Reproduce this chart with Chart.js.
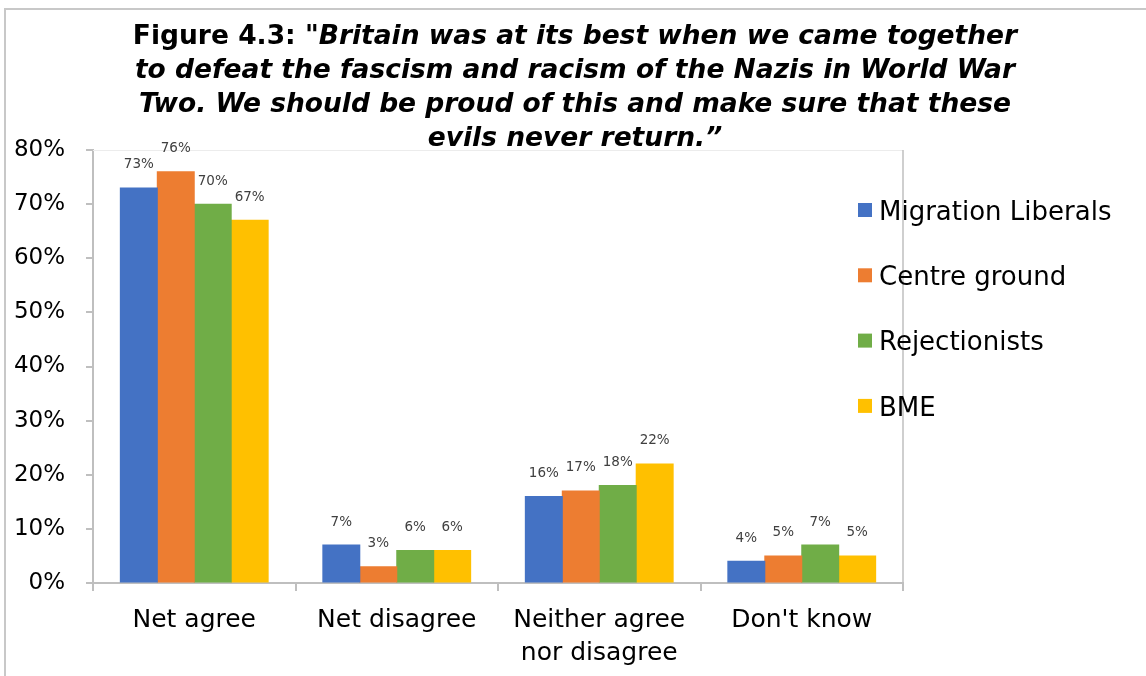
<!DOCTYPE html>
<html>
<head>
<meta charset="utf-8">
<script src="https://cdn.jsdelivr.net/npm/chart.js@4"></script>
<style>
    html, body { margin: 0; padding: 0; background: #fff; }
    canvas { display: block; }
</style>
</head>
<body>
<canvas id="surveyChart" width="1146" height="676"></canvas>
<script>
const categories = ['Net agree', 'Net disagree', ['Neither agree', 'nor disagree'], "Don't know"];
const groups = ['Migration Liberals', 'Centre ground', 'Rejectionists', 'BME'];
const migrationLiberals = [73, 7, 16, 4];
const centreGround = [76, 3, 17, 5];
const rejectionists = [70, 6, 18, 7];
const bme = [67, 6, 22, 5];
const yTicks = [0, 10, 20, 30, 40, 50, 60, 70, 80];
const colours = ['#4472C4', '#ED7D31', '#70AD47', '#FFC000'];

const titleLead = 'Figure 4.3: "';
const titleLines = [
    'Britain was at its best when we came together',
    'to defeat the fascism and racism of the Nazis in World War',
    'Two. We should be proud of this and make sure that these',
    'evils never return.\u201D'
];

Chart.defaults.font.family = '"DejaVu Sans", sans-serif';

const FONT = '"DejaVu Sans", sans-serif';
const axisGrey = '#bfbfbf';

// frame, plot border, title, bar labels and legend
const extras = {
    id: 'extras',
    beforeDatasetsDraw(chart) {
        const { ctx, chartArea: a } = chart;
        ctx.save();
        ctx.strokeStyle = '#ececec';
        ctx.lineWidth = 1;
        ctx.beginPath();
        ctx.moveTo(a.left, a.top + 0.5);
        ctx.lineTo(a.right, a.top + 0.5);
        ctx.stroke();
        ctx.strokeStyle = axisGrey;
        ctx.lineWidth = 1.5;
        ctx.beginPath();
        ctx.moveTo(a.right, a.top);
        ctx.lineTo(a.right, a.bottom);
        ctx.stroke();
        ctx.restore();
    },
    afterDraw(chart) {
        const ctx = chart.ctx;
        ctx.save();

        // outer frame
        ctx.strokeStyle = '#c8c8c8';
        ctx.lineWidth = 2;
        ctx.beginPath();
        ctx.moveTo(5, 676);
        ctx.lineTo(5, 9);
        ctx.lineTo(1146, 9);
        ctx.stroke();

        // title
        const cx = 575;
        const normal = 'bold 26.5px ' + FONT;
        const italic = 'italic bold 26.5px ' + FONT;
        ctx.fillStyle = '#000';
        ctx.textBaseline = 'alphabetic';
        ctx.textAlign = 'left';
        titleLines.forEach((line, i) => {
            const y = 44 + i * 34;
            let leadW = 0;
            if (i === 0) {
                ctx.font = normal;
                leadW = ctx.measureText(titleLead).width;
            }
            ctx.font = italic;
            const w = leadW + ctx.measureText(line).width;
            let x = cx - w / 2;
            if (i === 0) {
                ctx.font = normal;
                ctx.fillText(titleLead, x, y);
                x += leadW;
                ctx.font = italic;
            }
            ctx.fillText(line, x, y);
        });

        // value labels above bars
        ctx.font = '13.5px ' + FONT;
        ctx.fillStyle = '#404040';
        ctx.textAlign = 'center';
        ctx.textBaseline = 'middle';
        chart.data.datasets.forEach((ds, i) => {
            chart.getDatasetMeta(i).data.forEach((bar, j) => {
                ctx.fillText(ds.data[j] + '%', bar.x, bar.y - 23);
            });
        });

        // legend
        ctx.font = '26px ' + FONT;
        ctx.textAlign = 'left';
        chart.data.datasets.forEach((ds, i) => {
            const y = 213 + i * 65.3;
            ctx.fillStyle = ds.backgroundColor;
            ctx.fillRect(858, y - 10, 14, 14);
            ctx.fillStyle = '#000';
            ctx.fillText(ds.label, 879, y);
        });

        ctx.restore();
    }
};

const seriesValues = [migrationLiberals, centreGround, rejectionists, bme];

new Chart(document.getElementById('surveyChart'), {
    type: 'bar',
    data: {
        labels: categories,
        datasets: groups.map((g, i) => ({
            label: g,
            data: seriesValues[i],
            backgroundColor: colours[i],
            borderWidth: 0,
            inflateAmount: 0.5,
            barPercentage: 1,
            categoryPercentage: 0.73
        }))
    },
    options: {
        responsive: false,
        animation: false,
        layout: { padding: { top: 150, right: 243, left: 0, bottom: 0 } },
        plugins: {
            legend: { display: false },
            title: { display: false },
            tooltip: { enabled: false }
        },
        scales: {
            x: {
                afterFit: (s) => { s.height = 93; },
                grid: { drawOnChartArea: false, drawTicks: true, tickLength: 8, color: axisGrey, lineWidth: 2 },
                border: { color: axisGrey, width: 2 },
                ticks: { color: '#000', font: { size: 25, lineHeight: 1.32 }, padding: 13 }
            },
            y: {
                min: 0,
                max: 80,
                afterFit: (s) => { s.width = 93; },
                afterBuildTicks: (s) => { s.ticks = yTicks.map(v => ({ value: v })); },
                grid: { drawOnChartArea: false, drawTicks: true, tickLength: 7, color: axisGrey, lineWidth: 2 },
                border: { color: axisGrey, width: 2 },
                ticks: { color: '#000', font: { size: 23 }, padding: 21, callback: v => v + '%' }
            }
        }
    },
    plugins: [extras]
});
</script>
</body>
</html>
